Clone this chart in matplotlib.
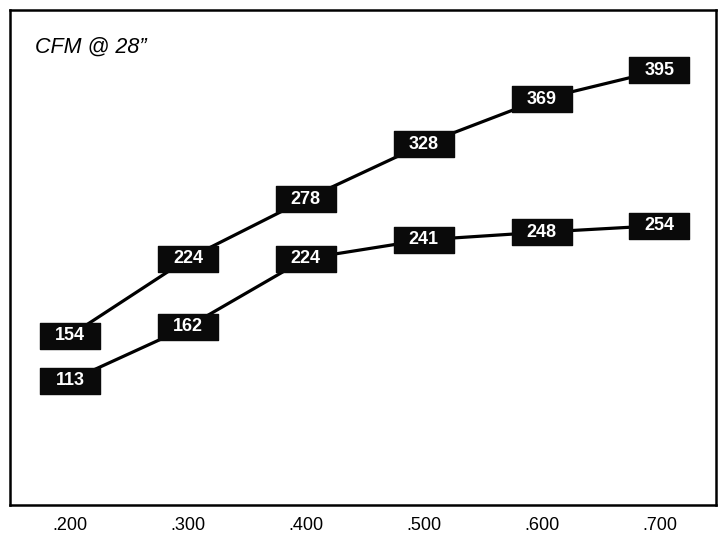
import matplotlib
matplotlib.use("Agg")
import matplotlib.pyplot as plt
import numpy as np
from matplotlib.path import Path

plt.rcParams['font.family'] = ['Liberation Sans', 'DejaVu Sans']

pressure = [0.200, 0.300, 0.400, 0.500, 0.600, 0.700]
tick_labels = ['.200', '.300', '.400', '.500', '.600', '.700']
upper_cfm = [154, 224, 278, 328, 369, 395]
lower_cfm = [113, 162, 224, 241, 248, 254]

# flat rectangle marker for the value tags
tag = Path([(-1, -0.43), (1, -0.43), (1, 0.43), (-1, 0.43), (-1, -0.43)],
           [Path.MOVETO, Path.LINETO, Path.LINETO, Path.LINETO, Path.CLOSEPOLY])

fig = plt.figure(figsize=(7.22, 5.35), dpi=100)
ax = fig.add_axes([10 / 722, 30 / 535, 706 / 722, 495 / 535])

for series in (upper_cfm, lower_cfm):
    ax.plot(pressure, series, color='black', lw=2.3, zorder=2,
            solid_capstyle='butt')
    ax.plot(pressure, series, ls='none', marker=tag, markersize=43.5,
            markerfacecolor='#0a0a0a', markeredgecolor='#0a0a0a', zorder=3)
    for x, v in zip(pressure, series):
        ax.text(x, v, str(v), color='white', fontsize=13, fontweight='bold',
                ha='center', va='center', zorder=4)

ax.text(0.035, 0.925, 'CFM @ 28\u201d', transform=ax.transAxes, fontsize=15.5,
        style='italic', ha='left', va='center')

ax.set_xlim(0.149, 0.748)
ax.set_ylim(0, 450)
ax.set_xticks(pressure)
ax.set_xticklabels(tick_labels, fontsize=13)
ax.set_yticks([])
ax.tick_params(axis='x', length=0, pad=9)
for s in ax.spines.values():
    s.set_linewidth(1.8)

fig.savefig('out.png', dpi=100)
